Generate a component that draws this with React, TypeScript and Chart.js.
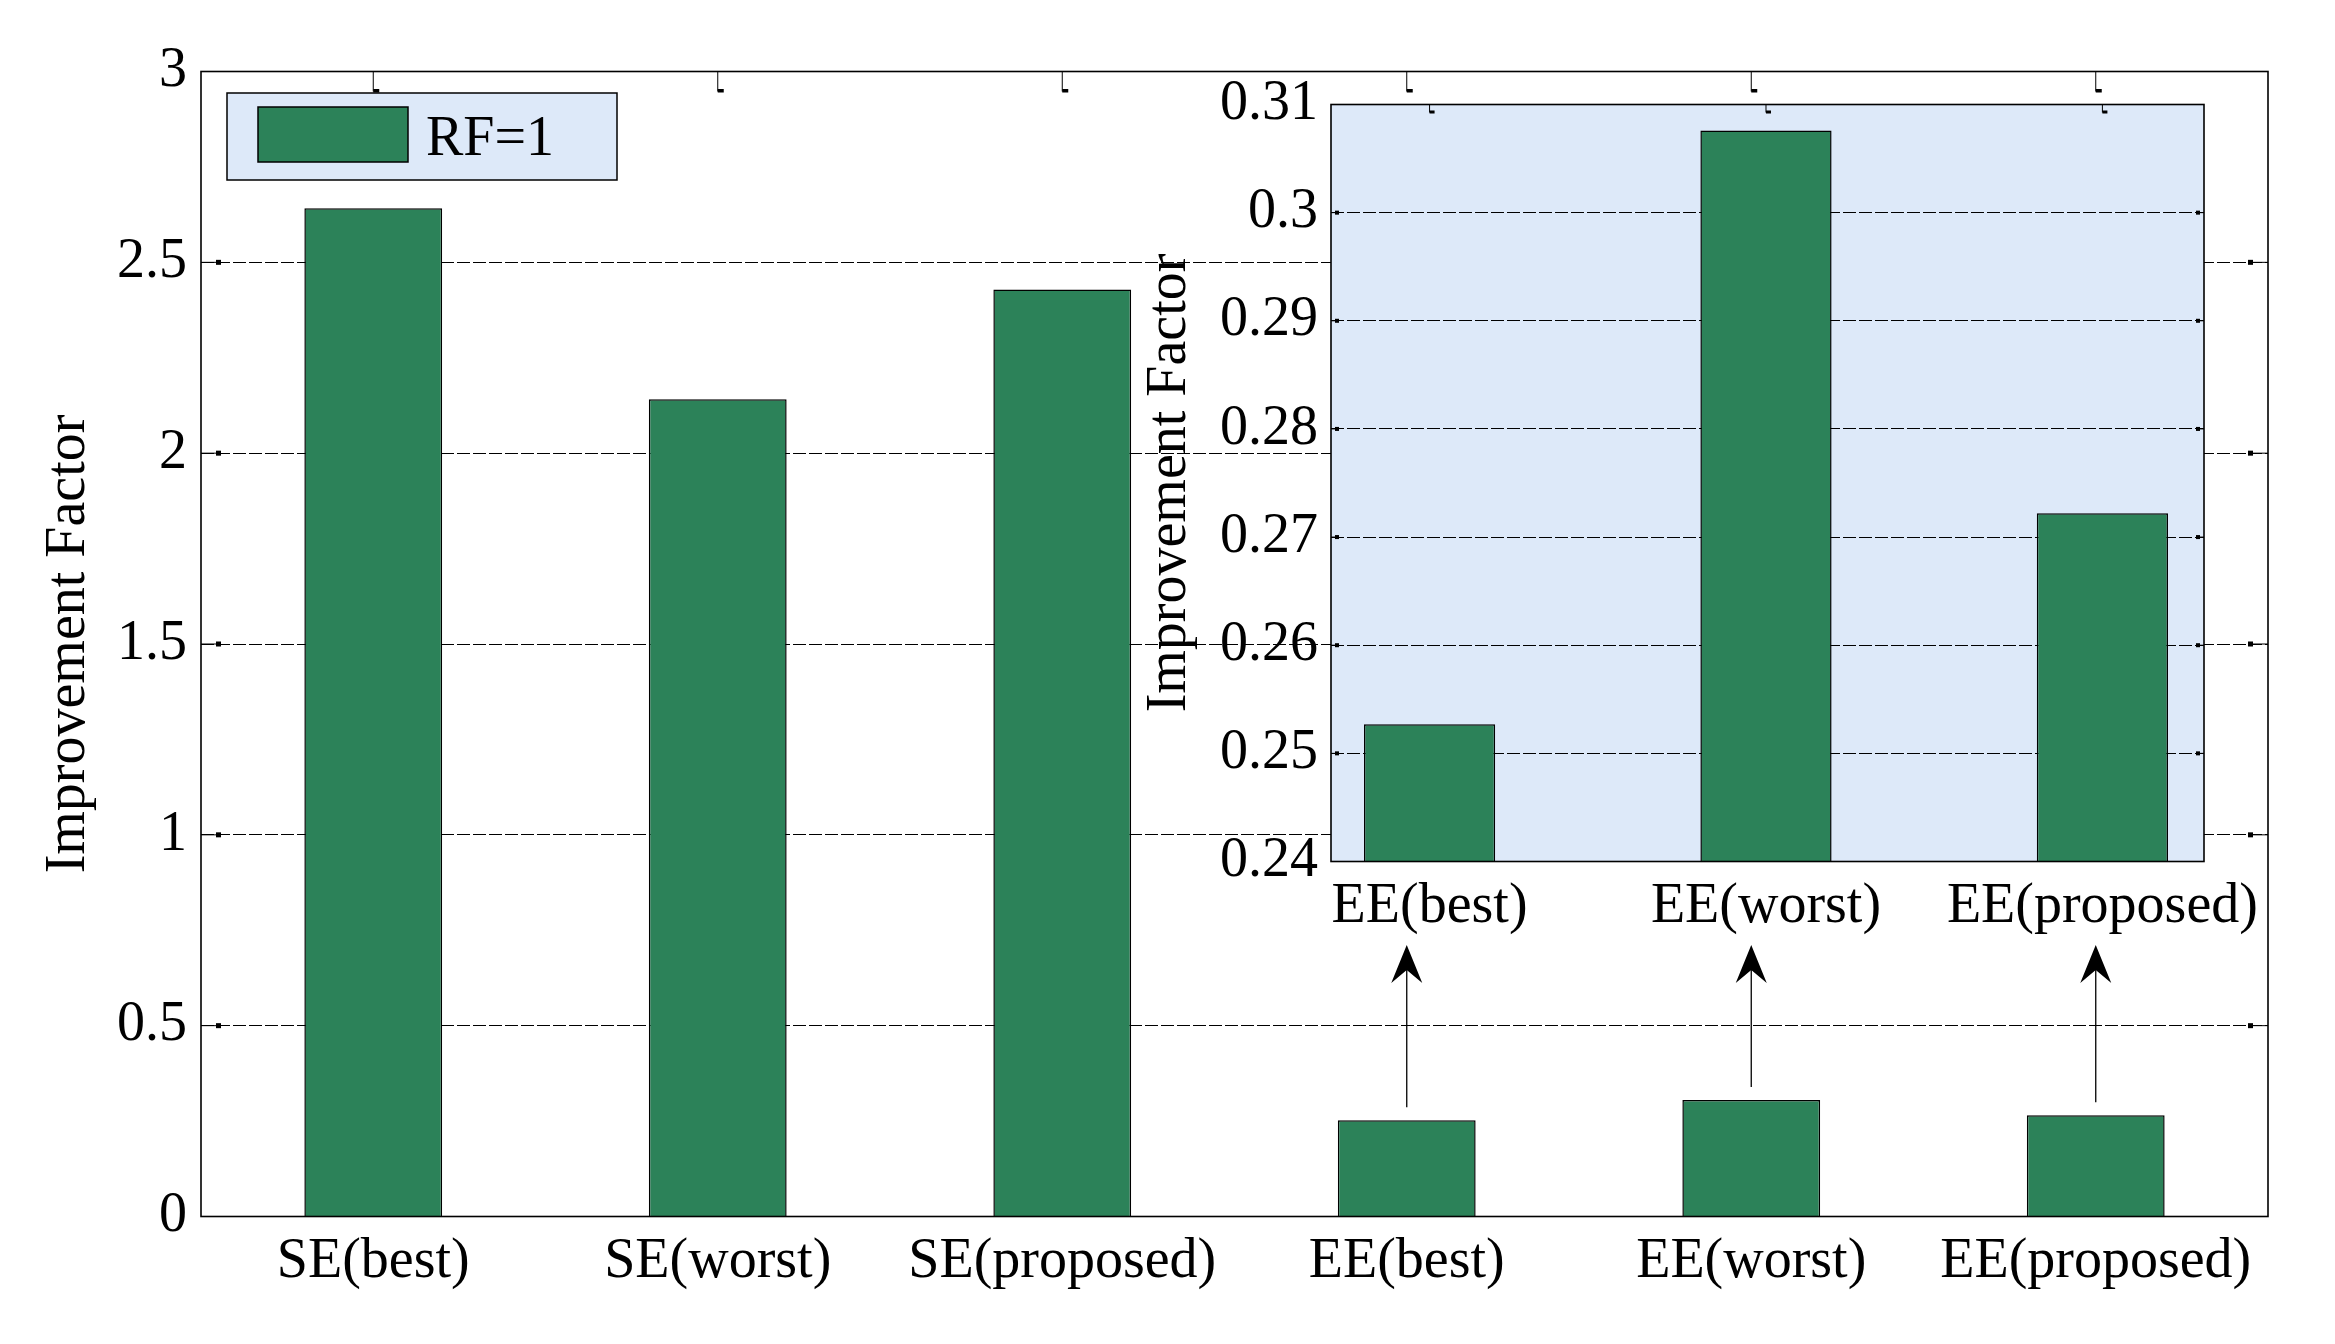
import React, { useEffect, useRef } from "react";
import { Chart, registerables } from "chart.js";

Chart.register(...registerables);

// ---------------- data ----------------
const categories = ["SE(best)", "SE(worst)", "SE(proposed)", "EE(best)", "EE(worst)", "EE(proposed)"];
const improvementValues = [2.642, 2.141, 2.429, 0.252, 0.305, 0.265];
const seriesLabel = "RF=1";
const yAxisTitle = "Improvement Factor";
const mainYTicks = [0, 0.5, 1, 1.5, 2, 2.5, 3];

const insetCategories = ["EE(best)", "EE(worst)", "EE(proposed)"];
const insetValues = [0.2527, 0.3076, 0.2722];
const insetYTicks = [0.24, 0.25, 0.26, 0.27, 0.28, 0.29, 0.3, 0.31];
const arrowCategories = ["EE(best)", "EE(worst)", "EE(proposed)"];

// ---------------- style / layout ----------------
const BAR_GREEN = "rgb(44,130,89)";
const PANEL_BLUE = "rgb(221,233,249)";
const GRID_COLOR = "#000";
const FONT = '"Liberation Serif", "Times New Roman", serif';
const FONT_SIZE = 56;

const W = 2335;
const H = 1344;
const MAIN = { left: 201, right: 2268, top: 71.5, bottom: 1216.5 };
const INSET_BOX = { x: 1100, y: 0, w: 1235, h: 960 };
const INSET = { left: 1331, right: 2204, top: 104.5, bottom: 861.5 };
const LEGEND = { x1: 227, y1: 93, x2: 617, y2: 180, sx1: 258, sy1: 107, sx2: 408, sy2: 162, tx: 426, ty: 155 };
const ARROW_TIP_Y = 945;

function drawFrame(chart: any, tickLen: number, sq: number) {
  const { ctx, chartArea: a, scales } = chart;
  ctx.save();
  ctx.setLineDash([]);
  ctx.strokeStyle = "#000";
  ctx.fillStyle = "#000";
  ctx.lineWidth = 1;
  const ys = scales.y.ticks.map((t: any) => scales.y.getPixelForValue(t.value));
  ys.forEach((y: number) => {
    if (Math.abs(y - a.top) < 2 || Math.abs(y - a.bottom) < 2) return;
    ctx.beginPath();
    ctx.moveTo(a.left, y);
    ctx.lineTo(a.left + tickLen, y);
    ctx.moveTo(a.right, y);
    ctx.lineTo(a.right - tickLen, y);
    ctx.stroke();
    ctx.fillRect(a.left + tickLen - sq, y - sq / 2, sq, sq);
    ctx.fillRect(a.right - tickLen, y - sq / 2, sq, sq);
  });
  scales.x.ticks.forEach((_t: any, i: number) => {
    const x = scales.x.getPixelForTick(i);
    ctx.beginPath();
    ctx.moveTo(x, a.top);
    ctx.lineTo(x, a.top + tickLen);
    ctx.stroke();
    ctx.fillRect(x, a.top + tickLen - sq / 2, sq + 1, sq / 2 + 1);
  });
  ctx.lineWidth = 1.6;
  ctx.strokeRect(a.left, a.top, a.right - a.left, a.bottom - a.top);
  ctx.restore();
}

const mainPlugin = {
  id: "mainDecor",
  afterDraw(chart: any) {
    const { ctx, scales } = chart;
    drawFrame(chart, 20, 5);

    // arrows from EE bars up to the inset
    ctx.save();
    ctx.setLineDash([]);
    ctx.strokeStyle = "#000";
    ctx.fillStyle = "#000";
    ctx.lineWidth = 1.3;
    arrowCategories.forEach((cat) => {
      const i = categories.indexOf(cat);
      const x = scales.x.getPixelForValue(i);
      const yStart = scales.y.getPixelForValue(improvementValues[i]) - 13;
      const tip = ARROW_TIP_Y;
      ctx.beginPath();
      ctx.moveTo(x, yStart);
      ctx.lineTo(x, tip + 20);
      ctx.stroke();
      ctx.beginPath();
      ctx.moveTo(x, tip);
      ctx.lineTo(x + 15.5, tip + 38);
      ctx.lineTo(x, tip + 25);
      ctx.lineTo(x - 15.5, tip + 38);
      ctx.closePath();
      ctx.fill();
    });
    ctx.restore();

    // legend
    const ds = chart.data.datasets[0];
    ctx.save();
    ctx.setLineDash([]);
    ctx.fillStyle = PANEL_BLUE;
    ctx.fillRect(LEGEND.x1, LEGEND.y1, LEGEND.x2 - LEGEND.x1, LEGEND.y2 - LEGEND.y1);
    ctx.strokeStyle = "#000";
    ctx.lineWidth = 1.5;
    ctx.strokeRect(LEGEND.x1, LEGEND.y1, LEGEND.x2 - LEGEND.x1, LEGEND.y2 - LEGEND.y1);
    ctx.fillStyle = ds.backgroundColor;
    ctx.fillRect(LEGEND.sx1, LEGEND.sy1, LEGEND.sx2 - LEGEND.sx1, LEGEND.sy2 - LEGEND.sy1);
    ctx.strokeRect(LEGEND.sx1, LEGEND.sy1, LEGEND.sx2 - LEGEND.sx1, LEGEND.sy2 - LEGEND.sy1);
    ctx.fillStyle = "#000";
    ctx.font = `${FONT_SIZE}px ${FONT}`;
    ctx.textAlign = "left";
    ctx.textBaseline = "alphabetic";
    ctx.fillText(ds.label, LEGEND.tx, LEGEND.ty);
    ctx.restore();
  },
};

const insetPlugin = {
  id: "insetDecor",
  beforeDraw(chart: any) {
    const { ctx, chartArea: a } = chart;
    ctx.save();
    ctx.fillStyle = PANEL_BLUE;
    ctx.fillRect(a.left, a.top, a.right - a.left, a.bottom - a.top);
    ctx.restore();
  },
  afterDraw(chart: any) {
    drawFrame(chart, 8, 4);
  },
};

function textFont() {
  return { family: FONT, size: FONT_SIZE };
}

export default function App() {
  const mainRef = useRef<HTMLCanvasElement>(null);
  const insetRef = useRef<HTMLCanvasElement>(null);

  useEffect(() => {
    const main = new Chart(mainRef.current as HTMLCanvasElement, {
      type: "bar",
      data: {
        labels: categories,
        datasets: [
          {
            label: seriesLabel,
            data: improvementValues,
            backgroundColor: BAR_GREEN,
            borderColor: "#000",
            borderWidth: 1.5,
            barPercentage: 0.4,
            categoryPercentage: 1,
          },
        ],
      },
      options: {
        responsive: false,
        animation: false,
        devicePixelRatio: 1,
        layout: { padding: { top: MAIN.top, right: W - MAIN.right, left: 0, bottom: 0 } },
        plugins: { legend: { display: false }, tooltip: { enabled: false }, title: { display: false } },
        scales: {
          x: {
            type: "category",
            offset: true,
            grid: { display: false },
            border: { display: false },
            ticks: { color: "#000", font: textFont(), padding: 4, maxRotation: 0, minRotation: 0, autoSkip: false },
            afterFit: (s: any) => {
              s.height = H - MAIN.bottom;
              s.paddingLeft = 0;
              s.paddingRight = 0;
            },
          },
          y: {
            type: "linear",
            min: 0,
            max: 3,
            afterBuildTicks: (s: any) => {
              s.ticks = mainYTicks.map((v) => ({ value: v }));
            },
            ticks: { color: "#000", font: textFont(), padding: 14, callback: (v: any) => String(v) },
            grid: { color: GRID_COLOR, lineWidth: 1, drawTicks: false },
            border: { display: false, dash: [13, 3] },
            title: { display: true, text: yAxisTitle, color: "#000", font: textFont(), padding: { top: 35.8, bottom: 0 } },
            afterFit: (s: any) => {
              s.width = MAIN.left;
              s.paddingTop = 0;
              s.paddingBottom = 0;
            },
          },
        },
      } as any,
      plugins: [mainPlugin],
    } as any);

    const inset = new Chart(insetRef.current as HTMLCanvasElement, {
      type: "bar",
      data: {
        datasets: [
          {
            label: seriesLabel,
            data: insetValues.map((v, i) => ({ x: i + 1, y: v })),
            backgroundColor: BAR_GREEN,
            borderColor: "#000",
            borderWidth: 1.5,
            barPercentage: 0.39,
            categoryPercentage: 1,
          },
        ],
      },
      options: {
        responsive: false,
        animation: false,
        devicePixelRatio: 1,
        layout: {
          padding: {
            top: INSET.top - INSET_BOX.y,
            right: INSET_BOX.x + INSET_BOX.w - INSET.right,
            left: 0,
            bottom: 0,
          },
        },
        plugins: { legend: { display: false }, tooltip: { enabled: false }, title: { display: false } },
        scales: {
          x: {
            type: "linear",
            offset: false,
            min: 0.707,
            max: 3.302,
            afterBuildTicks: (s: any) => {
              s.ticks = insetCategories.map((_c, i) => ({ value: i + 1 }));
            },
            grid: { display: false, offset: false },
            border: { display: false },
            ticks: {
              color: "#000",
              font: textFont(),
              padding: 4,
              maxRotation: 0,
              minRotation: 0,
              autoSkip: false,
              callback: (v: any) => insetCategories[Math.round(Number(v)) - 1] ?? "",
            },
            afterFit: (s: any) => {
              s.height = INSET_BOX.h - (INSET.bottom - INSET_BOX.y);
              s.paddingLeft = 0;
              s.paddingRight = 0;
            },
          },
          y: {
            type: "linear",
            min: 0.24,
            max: 0.31,
            afterBuildTicks: (s: any) => {
              s.ticks = insetYTicks.map((v) => ({ value: v }));
            },
            ticks: {
              color: "#000",
              font: textFont(),
              padding: 13,
              callback: (v: any) => String(Number(Number(v).toFixed(2))),
            },
            grid: { color: GRID_COLOR, lineWidth: 1, drawTicks: false },
            border: { display: false, dash: [13, 3] },
            title: { display: true, text: yAxisTitle, color: "#000", font: textFont(), padding: { top: 36.4, bottom: 0 } },
            afterFit: (s: any) => {
              s.width = INSET.left - INSET_BOX.x;
              s.paddingTop = 0;
              s.paddingBottom = 0;
            },
          },
        },
      } as any,
      plugins: [insetPlugin],
    } as any);

    return () => {
      main.destroy();
      inset.destroy();
    };
  }, []);

  return (
    <div style={{ position: "absolute", left: 0, top: 0, width: W, height: H, background: "#fff" }}>
      <canvas
        ref={mainRef}
        width={W}
        height={H}
        style={{ position: "absolute", left: 0, top: 0, width: W, height: H }}
      />
      <canvas
        ref={insetRef}
        width={INSET_BOX.w}
        height={INSET_BOX.h}
        style={{ position: "absolute", left: INSET_BOX.x, top: INSET_BOX.y, width: INSET_BOX.w, height: INSET_BOX.h }}
      />
    </div>
  );
}
